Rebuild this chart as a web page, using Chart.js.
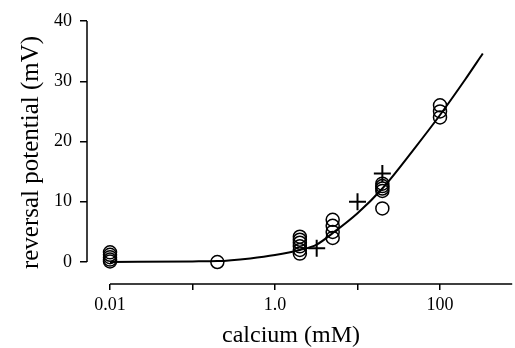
<!DOCTYPE html>
<html>
<head>
<meta charset="utf-8">
<script src="https://cdn.jsdelivr.net/npm/chart.js@4/dist/chart.umd.min.js"></script>
<style>
  html, body { margin: 0; padding: 0; background: #fff; }
</style>
</head>
<body>
<canvas id="chart" width="515" height="348"></canvas>
<script>
// Reversal potential vs external calcium (log axis)

// Measured points, open circles
const circleCalcium   = [0.01, 0.01, 0.01, 0.01, 0.01, 0.2, 2, 2, 2, 2, 2, 2, 5, 5, 5, 5, 20, 20, 20, 20, 20, 100, 100, 100];
const circlePotential = [0.1, 0.4, 0.8, 1.2, 1.6, 0, 1.4, 2.0, 2.6, 3.2, 3.7, 4.2, 4.0, 5.0, 6.0, 7.0, 8.9, 11.8, 12.2, 12.6, 13.0, 24.0, 25.0, 26.0];

// Measured points, crosses
const crossCalcium   = [3.2, 10, 20];
const crossPotential = [2.3, 10.0, 14.7];

// Fitted curve
const fitCalcium   = [0.01, 0.1, 0.2, 0.5, 1, 2, 3.2, 5, 10, 20, 50, 100, 200, 330];
const fitPotential = [0, 0.1, 0.15, 0.6, 1.15, 2.0, 2.9, 4.8, 8.1, 12.2, 19.0, 24.4, 30.2, 34.6];

// Axes
const xTicks = [0.01, 0.1, 1, 10, 100];
const xTickLabels = ['0.01', '', '1.0', '', '100'];
const yTicks = [0, 10, 20, 30, 40];
const xRange = [0.00526, 464];
const yRange = [-3.65, 40];
const xAxisEnd = 750;

const serif = "'Liberation Serif', 'Times New Roman', serif";

function toPoints(xs, ys) {
  return xs.map((x, i) => ({ x: x, y: ys[i] }));
}

// Draws the detached axis lines (y from 0 to 40, x from 0.01 onwards)
const axisLines = {
  id: 'axisLines',
  afterDraw(chart) {
    const { ctx, chartArea } = chart;
    const x = chart.scales.x;
    const y = chart.scales.y;
    ctx.save();
    ctx.strokeStyle = '#000';
    ctx.lineWidth = 1.5;
    ctx.beginPath();
    ctx.moveTo(chartArea.left, y.getPixelForValue(yTicks[yTicks.length - 1]));
    ctx.lineTo(chartArea.left, y.getPixelForValue(yTicks[0]));
    ctx.moveTo(x.getPixelForValue(xTicks[0]), chartArea.bottom);
    ctx.lineTo(x.getPixelForValue(xAxisEnd), chartArea.bottom);
    ctx.stroke();
    ctx.restore();
  }
};

const ctx = document.getElementById('chart').getContext('2d');

new Chart(ctx, {
  type: 'scatter',
  data: {
    datasets: [{
      label: 'fit',
      data: toPoints(fitCalcium, fitPotential),
      showLine: true,
      borderColor: '#000',
      borderWidth: 2,
      pointRadius: 0,
      cubicInterpolationMode: 'monotone',
      clip: false
    }, {
      label: 'circles',
      data: toPoints(circleCalcium, circlePotential),
      pointStyle: 'circle',
      pointRadius: 6.5,
      borderWidth: 1.5,
      borderColor: '#000',
      backgroundColor: 'rgba(0,0,0,0)',
      clip: false
    }, {
      label: 'crosses',
      data: toPoints(crossCalcium, crossPotential),
      pointStyle: 'cross',
      pointRadius: 8.5,
      borderWidth: 2,
      borderColor: '#000',
      clip: false
    }]
  },
  options: {
    responsive: false,
    animation: false,
    layout: {
      padding: { top: 21, right: 20, bottom: 0, left: 0 }
    },
    plugins: {
      legend: { display: false },
      tooltip: { enabled: false }
    },
    scales: {
      x: {
        type: 'logarithmic',
        min: xRange[0],
        max: xRange[1],
        afterBuildTicks: function(scale) {
          scale.ticks = xTicks.map(v => ({ value: v }));
        },
        afterFit: function(scale) {
          scale.height = 64;
        },
        ticks: {
          autoSkip: false,
          maxRotation: 0,
          color: '#000',
          padding: 4,
          font: { family: serif, size: 18 },
          callback: function(value, index) {
            return xTickLabels[index];
          }
        },
        grid: {
          drawOnChartArea: false,
          drawTicks: true,
          tickLength: 6,
          color: '#000',
          lineWidth: 1.5
        },
        border: { display: false },
        title: {
          display: true,
          text: 'calcium (mM)',
          color: '#000',
          font: { family: serif, size: 24, lineHeight: 1 },
          padding: { top: 0, bottom: 0 }
        }
      },
      y: {
        type: 'linear',
        min: yRange[0],
        max: yRange[1],
        afterBuildTicks: function(scale) {
          scale.ticks = yTicks.map(v => ({ value: v }));
        },
        afterFit: function(scale) {
          scale.width = 87;
        },
        ticks: {
          color: '#000',
          padding: 8,
          font: { family: serif, size: 18 }
        },
        grid: {
          drawOnChartArea: false,
          drawTicks: true,
          tickLength: 7,
          color: '#000',
          lineWidth: 1.5
        },
        border: { display: false },
        title: {
          display: true,
          text: 'reversal potential (mV)',
          color: '#000',
          font: { family: serif, size: 25 },
          padding: { top: 16, bottom: 0 }
        }
      }
    }
  },
  plugins: [axisLines]
});
</script>
</body>
</html>
